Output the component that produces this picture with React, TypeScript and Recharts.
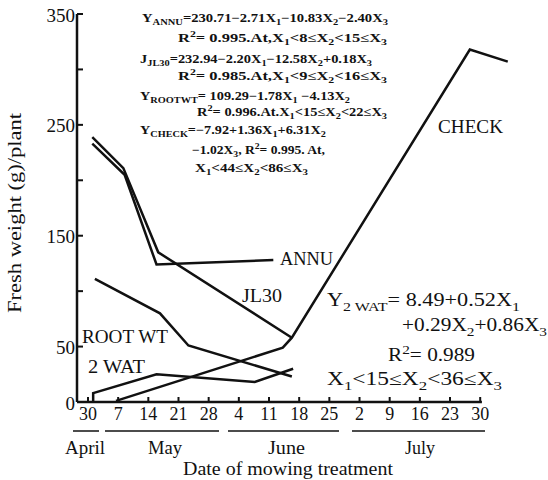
import { LineChart, Line, XAxis, YAxis, ReferenceLine } from 'recharts';

// x = days after 30 April, y = fresh weight (g) per plant
const tickDays = [0, 7, 14, 21, 28, 35, 42, 49, 56, 63, 70, 77, 84, 91];
const tickLabels = ['30', '7', '14', '21', '28', '4', '11', '18', '25', '2', '9', '16', '23', '30'];
const weightTicks = [0, 50, 100, 150, 200, 250, 300, 350];
const weightLabels = ['0', '50', '', '150', '', '250', '', '350'];

const annuDays = [1, 8.5, 15.9, 43];
const annuWeight = [233, 205, 124, 128];
const jl30Days = [1, 8.2, 16.3, 47.3];
const jl30Weight = [239, 211, 135, 58];
const rootDays = [1.6, 16.7, 23.3, 47.3];
const rootWeight = [111, 80, 51, 23];
const watDays = [1.2, 1.2, 15.9, 38.7, 47.6];
const watWeight = [0, 8, 25, 18, 30];
const checkDays = [6.5, 45.2, 47.3, 88.6, 97.4];
const checkWeight = [1, 49, 58, 318, 307];

const zip = (days: number[], w: number[]) => days.map((d, i) => ({ day: d, weight: w[i] }));
const series = [
  zip(annuDays, annuWeight),
  zip(jl30Days, jl30Weight),
  zip(rootDays, rootWeight),
  zip(watDays, watWeight),
  zip(checkDays, checkWeight),
];

const FONT = '"Liberation Serif", "Times New Roman", serif';
const INK = '#111';

// equation blocks (text, start x, baseline, end x)
const topEq = [
  { t: 'Y_{ANNU}=230.71−2.71X_{1}−10.83X_{2}−2.40X_{3}', x: 142, y: 22, x2: 388 },
  { t: 'R^{2}= 0.995.At,X_{1}<8≤X_{2}<15≤X_{3}', x: 178, y: 42, x2: 387 },
  { t: 'J_{JL30}=232.94−2.20X_{1}−12.58X_{2}+0.18X_{3}', x: 140, y: 63, x2: 372 },
  { t: 'R^{2}= 0.985.At,X_{1}<9≤X_{2}<16≤X_{3}', x: 178, y: 80, x2: 387 },
  { t: 'Y_{ROOTWT}= 109.29−1.78X_{1} −4.13X_{2}', x: 140, y: 100, x2: 350 },
  { t: 'R^{2}= 0.996.At.X_{1}<15≤X_{2}<22≤X_{3}', x: 197, y: 116, x2: 387 },
  { t: 'Y_{CHECK}=−7.92+1.36X_{1}+6.31X_{2}', x: 140, y: 134, x2: 326 },
  { t: '−1.02X_{3}, R^{2}= 0.995. At,', x: 192, y: 154, x2: 325 },
  { t: 'X_{1}<44≤X_{2}<86≤X_{3}', x: 195, y: 172, x2: 308 },
];
const watEq = [
  { t: 'Y_{2 WAT}= 8.49+0.52X_{1}', x: 327, y: 306, x2: 520 },
  { t: '+0.29X_{2}+0.86X_{3}', x: 402, y: 331, x2: 547 },
  { t: 'R^{2}= 0.989', x: 388, y: 361, x2: 475 },
  { t: 'X_{1}<15≤X_{2}<36≤X_{3}', x: 327, y: 385, x2: 502 },
];
const seriesLabels = [
  { t: 'ANNU', x: 280, y: 265, x2: 333 },
  { t: 'JL30', x: 242, y: 302, x2: 282 },
  { t: 'ROOT WT', x: 82, y: 343, x2: 168 },
  { t: '2 WAT', x: 88, y: 373, x2: 145 },
  { t: 'CHECK', x: 438, y: 133, x2: 503 },
];
const months = [
  { t: 'April', x: 65, x2: 105, u1: 73, u2: 99 },
  { t: 'May', x: 148, x2: 182, u1: 105, u2: 219 },
  { t: 'June', x: 268, x2: 305, u1: 228, u2: 339 },
  { t: 'July', x: 405, x2: 435, u1: 352, u2: 485 },
];

// tiny markup: _{..} subscript, ^{..} superscript
function rich(src: string, size: number) {
  const out: any[] = [];
  const re = /([_^])\{([^}]*)\}|([^_^]+)/g;
  let m: RegExpExecArray | null;
  let shift = 0;
  let k = 0;
  while ((m = re.exec(src)) !== null) {
    const target = m[1] === '_' ? size * 0.25 : m[1] === '^' ? -size * 0.4 : 0;
    out.push(
      <tspan key={k++} dy={target - shift} fontSize={m[1] ? size * 0.72 : size}>
        {m[1] ? m[2] : m[3]}
      </tspan>
    );
    shift = target;
  }
  return out;
}

function Rich({ t, x, y, x2, size, bold }: any) {
  return (
    <text
      x={x}
      y={y}
      fontSize={size}
      fontWeight={bold ? 700 : 400}
      textLength={x2 - x}
      lengthAdjust="spacingAndGlyphs"
      fill={INK}
      style={{ whiteSpace: 'pre' }}
    >
      {rich(t, size)}
    </text>
  );
}

function XTick({ x, y, payload }: any) {
  const i = tickDays.indexOf(payload.value);
  return (
    <g>
      <line x1={x} x2={x} y1={y} y2={y - 5} stroke={INK} strokeWidth={2} />
      <text x={x} y={y + 18} textAnchor="middle" fontSize={18} fill={INK} fontFamily={FONT}>
        {tickLabels[i]}
      </text>
    </g>
  );
}

function YTick({ x, y, payload }: any) {
  const i = weightTicks.indexOf(payload.value);
  return (
    <g>
      <line x1={x} x2={x + 6} y1={y} y2={y} stroke={INK} strokeWidth={2} />
      <text x={x - 2} y={y + 7.5} textAnchor="end" fontSize={19} fill={INK} fontFamily={FONT}>
        {weightLabels[i]}
      </text>
    </g>
  );
}

export default function App() {
  return (
    <div style={{ position: 'absolute', left: 0, top: 0, width: 548, height: 480, background: '#fff', fontFamily: FONT }}>
      <LineChart width={548} height={480} margin={{ top: 14, right: 36, bottom: 48, left: 32 }}>
        <XAxis
          type="number"
          dataKey="day"
          domain={[-2.55, 98.38]}
          ticks={tickDays}
          interval={0}
          axisLine={false}
          tickLine={false}
          tickSize={0}
          tickMargin={0}
          height={30}
          tick={<XTick />}
        />
        <YAxis
          type="number"
          dataKey="weight"
          domain={[0, 350]}
          ticks={weightTicks}
          interval={0}
          width={45}
          axisLine={{ stroke: INK, strokeWidth: 2.5 }}
          tickLine={false}
          tickSize={0}
          tickMargin={0}
          tick={<YTick />}
        />
        <ReferenceLine
          segment={[{ x: -2.55, y: 0 }, { x: 91.4, y: 0 }]}
          stroke={INK}
          strokeWidth={2.5}
        />
        {series.map((d, i) => (
          <Line
            key={i}
            data={d}
            dataKey="weight"
            type="linear"
            stroke={INK}
            strokeWidth={2.5}
            dot={false}
            activeDot={false}
            isAnimationActive={false}
          />
        ))}
      </LineChart>
      <svg
        width={548}
        height={480}
        style={{ position: 'absolute', left: 0, top: 0, pointerEvents: 'none', fontFamily: FONT }}
      >
        {topEq.map((r, i) => (
          <Rich key={'t' + i} {...r} size={12} bold />
        ))}
        {watEq.map((r, i) => (
          <Rich key={'w' + i} {...r} size={18} />
        ))}
        {seriesLabels.map((r, i) => (
          <Rich key={'s' + i} {...r} size={18} />
        ))}
        {months.map((m, i) => (
          <g key={'m' + i}>
            <line x1={m.u1} x2={m.u2} y1={431} y2={431} stroke={INK} strokeWidth={1.5} />
            <Rich t={m.t} x={m.x} y={454} x2={m.x2} size={18} />
          </g>
        ))}
        <Rich t="Date of mowing treatment" x={183} y={475} x2={393} size={18} />
        <g transform="translate(21, 313) rotate(-90)">
          <Rich t="Fresh weight (g)/plant" x={0} y={0} x2={200} size={19} />
        </g>
      </svg>
    </div>
  );
}
